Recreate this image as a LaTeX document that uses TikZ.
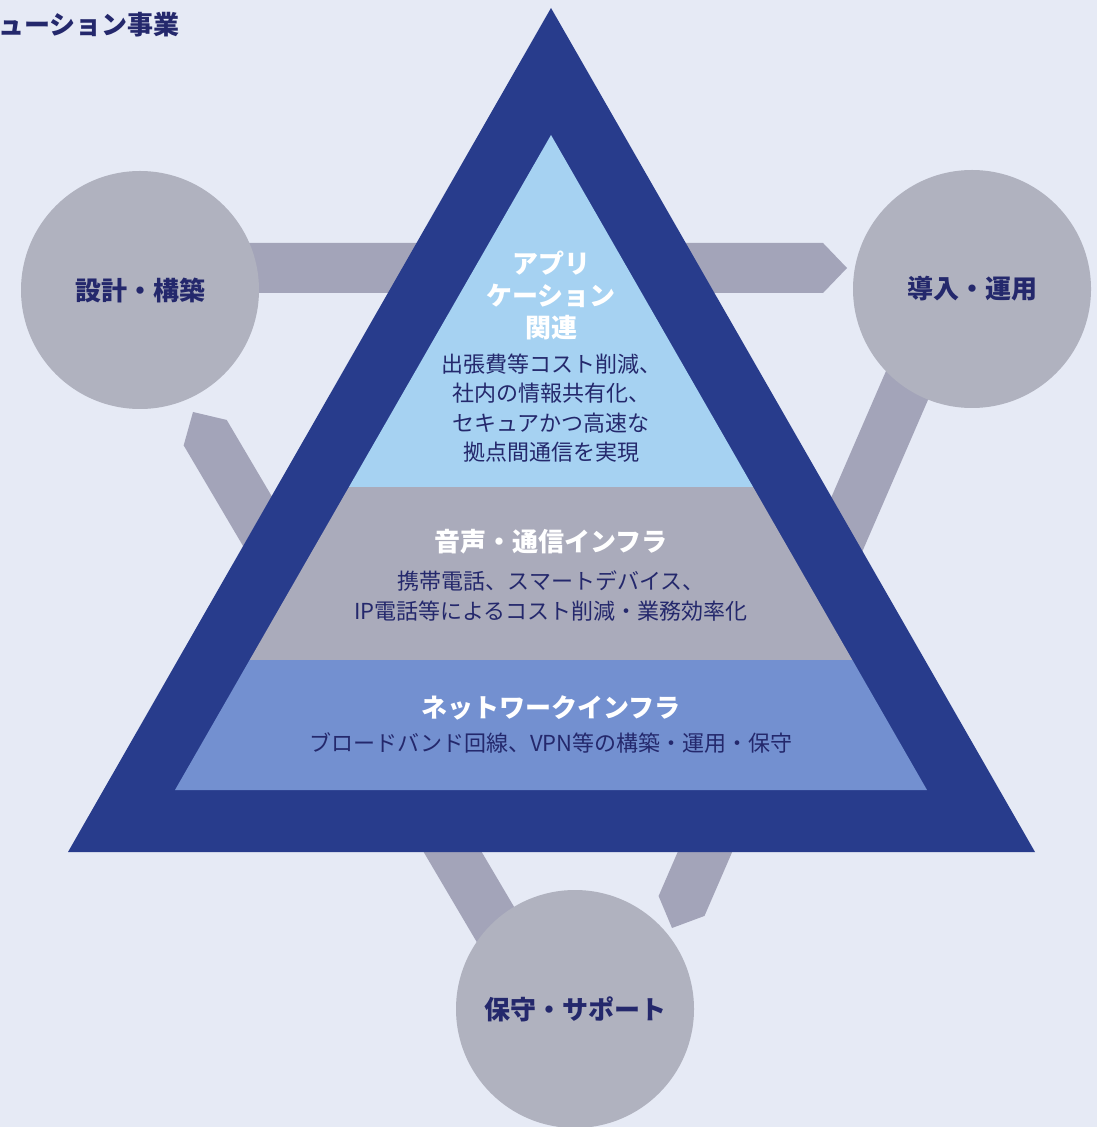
\documentclass[tikz,border=0pt]{standalone}
\usepackage{fontspec}
\setmainfont{Noto Sans CJK JP}
\usepackage{xcolor}
\usetikzlibrary{calc,positioning}

\definecolor{paper}{HTML}{E6EAF5}
\definecolor{ringgray}{HTML}{B0B2BF}
\definecolor{bandgray}{HTML}{A3A4B9}
\definecolor{navy}{HTML}{283C8C}
\definecolor{sky}{HTML}{A6D2F2}
\definecolor{midgray}{HTML}{AAABBB}
\definecolor{lowblue}{HTML}{7390D0}
\definecolor{ink}{HTML}{24286C}

% flat band with a pointed end, from #1 to the tip #2
\newcommand\bandto[2]{%
  \coordinate (bk) at ($(#2)!12pt!(#1)$);
  \fill[bandgray] ($(#1)!12.5pt!90:(#2)$) -- ($(bk)!12.5pt!-90:(#1)$) -- (#2)
    -- ($(bk)!12.5pt!90:(#1)$) -- ($(#1)!12.5pt!-90:(#2)$) -- cycle;}

\begin{document}
\begin{tikzpicture}[x=0.5pt, y=-0.5pt,
    phasecircle/.style={circle, fill=ringgray, minimum size=119pt, inner sep=0pt,
                        text=ink, font=\fontsize{13pt}{15pt}\selectfont\bfseries},
    layertitle/.style={text=white, align=center, inner sep=0pt,
                       font=\fontsize{13pt}{16pt}\selectfont\bfseries},
    layerbody/.style={text=ink, align=center, inner sep=0pt,
                      font=\fontsize{11pt}{14.7pt}\selectfont}]
  \useasboundingbox (0,0) rectangle (1097,1127);
  \fill[paper] (0,0) rectangle (1097,1127);

  \node[anchor=west, inner sep=0pt, text=ink,
        font=\fontsize{13pt}{15pt}\selectfont\bfseries] (head) at (-2,25) {ューション事業};

  % arrows between the phases
  \coordinate (outA) at (160,268);
  \coordinate (tipA) at (847,268);
  \coordinate (outB) at (931,330);
  \coordinate (tipB) at (672,928);
  \coordinate (outC) at (540,1000);
  \coordinate (tipC) at (193,412);

  \bandto{outA}{tipA}
  \bandto{outB}{tipB}
  \bandto{outC}{tipC}

  % three phases
  \node[phasecircle] (design)  at (140,290)  {設計・構築};
  \node[phasecircle] (deploy)  at (972,289)  {導入・運用};
  \node[phasecircle] (support) at (575,1009) {保守・サポート};

  % pyramid
  \coordinate (top)    at (551,8);
  \coordinate (left)   at (68,852);
  \coordinate (right)  at (1035,852);
  \coordinate (itop)   at (551,135);
  \coordinate (ileft)  at (175,790);
  \coordinate (iright) at (927,790);
  \fill[navy] (top) -- (left) -- (right) -- cycle;
  \begin{scope}
    \clip (itop) -- (ileft) -- (iright) -- cycle;
    \fill[sky]     (0,100) rectangle (1097,487);
    \fill[midgray] (0,487) rectangle (1097,660);
    \fill[lowblue] (0,660) rectangle (1097,800);
  \end{scope}

  \node[layertitle] (app)       at (551,295) {アプリ\\ケーション\\関連};
  \node[layerbody]  (appbody)   at (551,408) {出張費等コスト削減、\\社内の情報共有化、\\セキュアかつ高速な\\拠点間通信を実現};
  \node[layertitle] (voice)     at (551,542) {音声・通信インフラ};
  \node[layerbody]  (voicebody) at (551,596) {携帯電話、スマートデバイス、\\IP電話等によるコスト削減・業務効率化};
  \node[layertitle] (net)       at (551,708) {ネットワークインフラ};
  \node[layerbody]  (netbody)   at (551,743) {ブロードバンド回線、VPN等の構築・運用・保守};
\end{tikzpicture}
\end{document}
